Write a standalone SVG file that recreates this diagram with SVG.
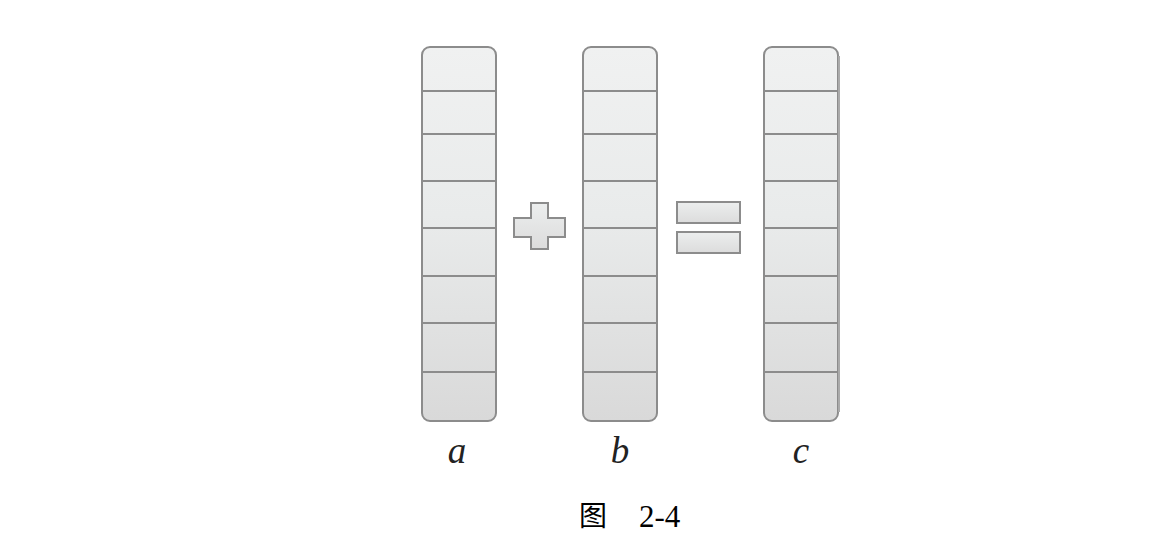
<svg xmlns="http://www.w3.org/2000/svg" width="1151" height="555" viewBox="0 0 1151 555">
<style>
.col{stroke:#8c8c8c;stroke-width:2;fill:url(#g)}
.div{stroke:#8c8c8c;stroke-width:2}
.sym{stroke:#8c8c8c;stroke-width:2;fill:url(#gs)}
.lbl{font-family:"Liberation Serif",serif;font-style:italic;font-size:37px;fill:#222;text-anchor:middle}
.cap{font-family:"Liberation Serif","Noto Sans CJK SC",serif;font-size:28px;fill:#000}
</style>
<defs>
<linearGradient id="g" x1="0" y1="0" x2="0" y2="1">
<stop offset="0" stop-color="#f0f1f1"/>
<stop offset="0.45" stop-color="#e9ebeb"/>
<stop offset="1" stop-color="#d9d9d9"/>
</linearGradient>
<linearGradient id="gs" x1="0" y1="0" x2="0" y2="1">
<stop offset="0" stop-color="#eceeee"/>
<stop offset="1" stop-color="#dcdcdc"/>
</linearGradient>
<g id="cells">
<line class="div" x1="0" y1="91" x2="74" y2="91"/>
<line class="div" x1="0" y1="134" x2="74" y2="134"/>
<line class="div" x1="0" y1="181" x2="74" y2="181"/>
<line class="div" x1="0" y1="228" x2="74" y2="228"/>
<line class="div" x1="0" y1="276" x2="74" y2="276"/>
<line class="div" x1="0" y1="323" x2="74" y2="323"/>
<line class="div" x1="0" y1="372" x2="74" y2="372"/>
</g>
</defs>
<rect width="1151" height="555" fill="#fff"/>
<g id="col-a">
<rect class="col" x="422" y="47" width="74" height="374" rx="8"/>
<use href="#cells" x="422"/>
<text class="lbl" x="457" y="463">a</text>
</g>
<g id="plus">
<path class="sym" d="M531,203 H548 V218 H565 V237 H548 V249 H531 V237 H514 V218 H531 Z"/>
</g>
<g id="col-b">
<rect class="col" x="583" y="47" width="74" height="374" rx="8"/>
<use href="#cells" x="583"/>
<text class="lbl" x="620" y="463">b</text>
</g>
<g id="equals">
<rect class="sym" x="677" y="202" width="63" height="21"/>
<rect class="sym" x="677" y="232" width="63" height="21"/>
</g>
<g id="col-c">
<rect class="col" x="764" y="47" width="74" height="374" rx="8"/>
<line x1="839" y1="56" x2="839" y2="412" stroke="#aaa" stroke-width="2"/>
<use href="#cells" x="764"/>
<text class="lbl" x="801" y="463">c</text>
</g>
<g id="caption">
<text class="cap" x="579" y="526">图</text>
<text class="cap" x="639" y="527" style="font-size:31px">2-4</text>
</g>
</svg>
